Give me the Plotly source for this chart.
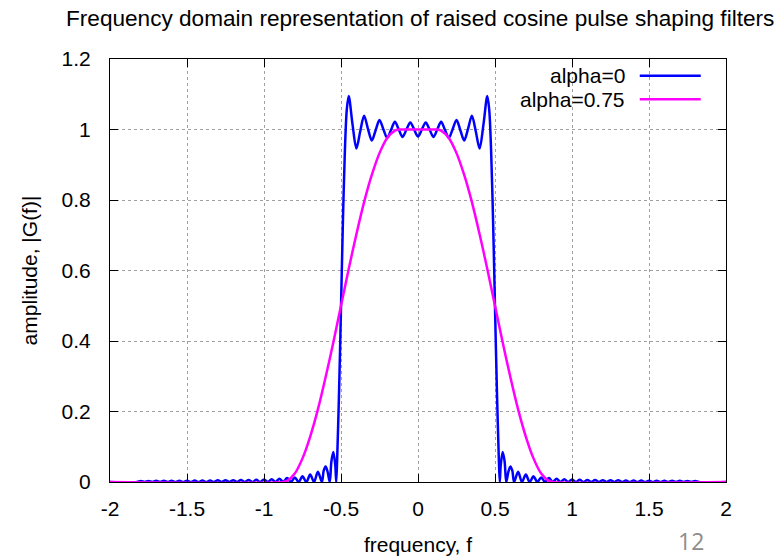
import plotly.graph_objects as go

# ---------------- data ----------------
freq_a0 = [
    -2.0, -1.825, -1.8, -1.775, -1.75, -1.725, -1.7, -1.675, -1.65, -1.625, -1.6,
    -1.575, -1.55, -1.525, -1.5, -1.475, -1.45, -1.425, -1.4, -1.375, -1.35,
    -1.325, -1.3, -1.275, -1.25, -1.225, -1.2, -1.175, -1.15, -1.125, -1.1,
    -1.075, -1.05, -1.025, -1.0, -0.975, -0.95, -0.925, -0.9, -0.875, -0.85,
    -0.825, -0.8, -0.775, -0.75, -0.725, -0.7, -0.675, -0.65, -0.624, -0.6125,
    -0.6, -0.5875, -0.573, -0.5625, -0.55, -0.5375, -0.531, -0.525, -0.5125, -0.5,
    -0.4875, -0.475, -0.4625, -0.45, -0.425, -0.4, -0.375, -0.35, -0.325, -0.3,
    -0.275, -0.25, -0.225, -0.2, -0.175, -0.15, -0.125, -0.1, -0.075, -0.05,
    -0.025, 0.0,
    0.025, 0.05, 0.075, 0.1, 0.125, 0.15, 0.175, 0.2, 0.225, 0.25, 0.275, 0.3,
    0.325, 0.35, 0.375, 0.4, 0.425, 0.45, 0.4625, 0.475, 0.4875, 0.5, 0.5125,
    0.525, 0.531, 0.5375, 0.55, 0.5625, 0.573, 0.5875, 0.6, 0.6125, 0.624, 0.65,
    0.675, 0.7, 0.725, 0.75, 0.775, 0.8, 0.825, 0.85, 0.875, 0.9, 0.925, 0.95,
    0.975, 1.0, 1.025, 1.05, 1.075, 1.1, 1.125, 1.15, 1.175, 1.2, 1.225, 1.25,
    1.275, 1.3, 1.325, 1.35, 1.375, 1.4, 1.425, 1.45, 1.475, 1.5, 1.525, 1.55,
    1.575, 1.6, 1.625, 1.65, 1.675, 1.7, 1.725, 1.75, 1.775, 1.8, 1.825, 2.0,
]
amp_a0 = [
    0.0, 0.0, 0.003, 0.0, 0.003, 0.0, 0.0032, 0.0, 0.0033, 0.0, 0.0035,
    0.0, 0.0036, 0.0, 0.0038, 0.0, 0.004, 0.0, 0.0042, 0.0, 0.0045,
    0.0, 0.0047, 0.0, 0.005, 0.0, 0.0053, 0.0, 0.0057, 0.0, 0.006,
    0.0, 0.0065, 0.0, 0.007, 0.0, 0.008, 0.0, 0.009, 0.0, 0.011,
    0.0, 0.013, 0.0, 0.016, 0.0, 0.021, 0.0, 0.029, 0.0, 0.032,
    0.044, 0.030, 0.0, 0.058, 0.085, 0.049, 0.0, 0.064, 0.258, 0.495,
    0.741, 0.936, 1.056, 1.095, 1.014, 0.946, 0.995, 1.039, 1.002, 0.969,
    0.998, 1.027, 1.001, 0.976, 0.999, 1.022, 1.000, 0.979, 1.000, 1.020,
    1.000, 0.980,
    1.000, 1.020, 1.000, 0.979, 1.000, 1.022, 0.999, 0.976, 1.001, 1.027, 0.998, 0.969,
    1.002, 1.039, 0.995, 0.946, 1.014, 1.095, 1.056, 0.936, 0.741, 0.495, 0.258,
    0.064, 0.0, 0.049, 0.085, 0.058, 0.0, 0.030, 0.044, 0.032, 0.0, 0.029,
    0.0, 0.021, 0.0, 0.016, 0.0, 0.013, 0.0, 0.011, 0.0, 0.009, 0.0, 0.008,
    0.0, 0.007, 0.0, 0.0065, 0.0, 0.006, 0.0, 0.0057, 0.0, 0.0053, 0.0, 0.005,
    0.0, 0.0047, 0.0, 0.0045, 0.0, 0.0042, 0.0, 0.004, 0.0, 0.0038, 0.0, 0.0036,
    0.0, 0.0035, 0.0, 0.0033, 0.0, 0.0032, 0.0, 0.003, 0.0, 0.003, 0.0, 0.0,
]

freq_a75 = [
    -2.0, -0.875, -0.85, -0.8, -0.75, -0.7, -0.65, -0.6, -0.55, -0.5, -0.45,
    -0.4, -0.35, -0.3, -0.25, -0.2, -0.15, -0.125, -0.1, -0.05, 0.0,
    0.05, 0.1, 0.125, 0.15, 0.2, 0.25, 0.3, 0.35, 0.4, 0.45, 0.5, 0.55, 0.6,
    0.65, 0.7, 0.75, 0.8, 0.85, 0.875, 2.0,
]
amp_a75 = [
    0.0, 0.0, 0.003, 0.024, 0.067, 0.129, 0.206, 0.297, 0.396, 0.5, 0.604,
    0.703, 0.794, 0.871, 0.933, 0.976, 0.997, 1.0, 1.0, 1.0, 1.0,
    1.0, 1.0, 1.0, 0.997, 0.976, 0.933, 0.871, 0.794, 0.703, 0.604, 0.5, 0.396, 0.297,
    0.206, 0.129, 0.067, 0.024, 0.003, 0.0, 0.0,
]

series_names = ["alpha=0", "alpha=0.75"]
series_colors = ["#0000ff", "#ff00ff"]

x_tickvals = [-2, -1.5, -1, -0.5, 0, 0.5, 1, 1.5, 2]
x_ticktext = ["-2", "-1.5", "-1", "-0.5", "0", "0.5", "1", "1.5", "2"]
y_tickvals = [0, 0.2, 0.4, 0.6, 0.8, 1.0, 1.2]
y_ticktext = ["0", "0.2", "0.4", "0.6", "0.8", "1", "1.2"]

title_text = "Frequency domain representation of raised cosine pulse shaping filters"
x_title = "frequency, f"
y_title = "amplitude, |G(f)|"
page_number = "12"

# ---------------- figure ----------------
FONT = "Liberation Sans, Arial, sans-serif"
FS = 21
LW = 2.5

fig = go.Figure()
for fx, fy, name, col in [(freq_a0, amp_a0, series_names[0], series_colors[0]),
                          (freq_a75, amp_a75, series_names[1], series_colors[1])]:
    fig.add_trace(go.Scatter(x=fx, y=fy, mode="lines", name=name,
                             line=dict(color=col, width=LW, shape="spline", smoothing=0.9)))

axis_common = dict(
    ticks="inside", ticklen=8, tickwidth=1, tickcolor="black",
    showline=True, linecolor="black", linewidth=1, mirror="ticks",
    showgrid=True, gridcolor="#a0a0a0", griddash="dot", gridwidth=1,
    zeroline=False, tickfont=dict(family=FONT, size=FS, color="black"),
)

fig.update_xaxes(range=[-2, 2], tickmode="array", tickvals=x_tickvals, ticktext=x_ticktext,
                 ticklabelstandoff=8,
                 title=dict(text=x_title, font=dict(family=FONT, size=FS, color="black"), standoff=18),
                 **axis_common)
fig.update_yaxes(range=[0, 1.2], tickmode="array", tickvals=y_tickvals, ticktext=y_ticktext,
                 ticklabelstandoff=14,
                 title=dict(text=y_title, font=dict(family=FONT, size=FS, color="black"), standoff=18),
                 **axis_common)

# gnuplot-style legend (text right-aligned, sample line to the right)
legend_y = [0.9605, 0.9046]
for i in range(2):
    fig.add_annotation(xref="paper", yref="paper", x=0.839, y=legend_y[i], text=series_names[i],
                       showarrow=False, xanchor="right", yanchor="middle",
                       font=dict(family=FONT, size=FS, color="black"))
    fig.add_shape(type="line", xref="paper", yref="paper", x0=0.860, x1=0.959,
                  y0=legend_y[i], y1=legend_y[i], line=dict(color=series_colors[i], width=LW))

fig.add_annotation(xref="paper", yref="paper", x=0.943, y=-0.14, text=page_number,
                   showarrow=False, xanchor="center", yanchor="middle",
                   font=dict(family="Open Sans, sans-serif", size=23, color="#8c8c8c"))

fig.update_layout(
    width=778, height=558,
    margin=dict(l=110, r=52, t=59, b=76, autoexpand=False),
    paper_bgcolor="white", plot_bgcolor="white",
    showlegend=False,
    font=dict(family=FONT, size=FS, color="black"),
    title=dict(text=title_text, xref="container", yref="container",
               x=66 / 778, xanchor="left", y=1 - 18 / 558, yanchor="middle",
               font=dict(family=FONT, size=22.6, color="black")),
)

fig.write_html("out.html")
